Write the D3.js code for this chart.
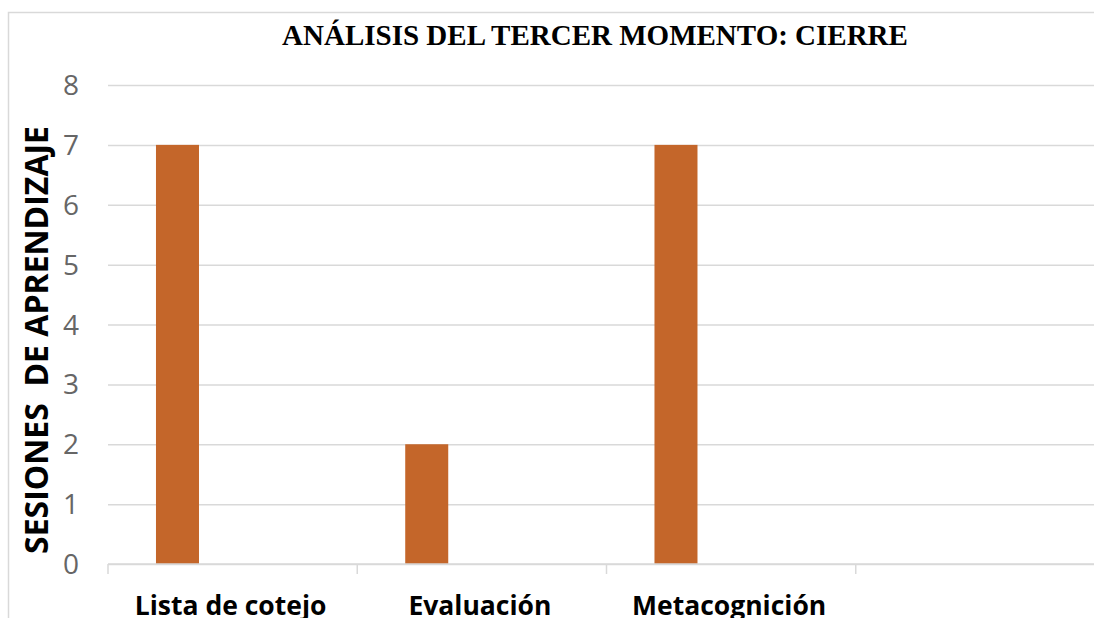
<!DOCTYPE html>
<html>
<head>
<meta charset="utf-8">
<script src="https://cdn.jsdelivr.net/npm/d3@7"></script>
<style>
  body { margin: 0; background: #fff; }
  svg { display: block; overflow: hidden; }
</style>
</head>
<body>
<svg id="chart" width="1094" height="618"></svg>
<script>
// chart data
var categories = ["Lista de cotejo", "Evaluación", "Metacognición", ""];
var seriesKeys = ["sesiones", "vacia"];
var sesiones = [7, 2, 7, 0];
var vacia = [0, 0, 0, 0];
var yTicks = [0, 1, 2, 3, 4, 5, 6, 7, 8];
var title = "ANÁLISIS DEL TERCER MOMENTO: CIERRE";
var yTitle = "SESIONES  DE APRENDIZAJE";

var svg = d3.select("#chart");
var plotLeft = 108, plotTop = 85, plotBottom = 564, plotRight = 1105;

// outer frame (cut off at right and bottom)
svg.append("rect")
    .attr("x", 8.5).attr("y", 12.5)
    .attr("width", 1200).attr("height", 700)
    .attr("fill", "none").attr("stroke", "#d9d9d9").attr("stroke-width", 1.5);

var x0 = d3.scaleBand().domain(categories).range([plotLeft, plotRight]);
var x1 = d3.scaleBand().domain(seriesKeys).range([0, x0.bandwidth()])
    .paddingInner(0.61).paddingOuter(0.435);
var y = d3.scaleLinear().domain([0, 8]).range([plotBottom, plotTop]);

var data = categories.map(function(c, i) { return {cat: c, sesiones: sesiones[i], vacia: vacia[i]}; });

// gridlines
var grid = svg.append("g").attr("transform", "translate(" + plotLeft + ",0)")
    .call(d3.axisLeft(y).tickValues(yTicks).tickSize(-(plotRight - plotLeft)).tickFormat(""));
grid.select(".domain").remove();
grid.selectAll("line").attr("stroke", "#d9d9d9").attr("stroke-width", 1.5);

// y tick labels
svg.append("g").selectAll("text")
  .data(yTicks)
  .enter().append("text")
    .attr("x", 79)
    .attr("y", function(d) { return y(d); })
    .attr("dy", "0.36em")
    .attr("text-anchor", "end")
    .attr("font-family", "Open Sans, sans-serif")
    .attr("font-size", 28)
    .attr("fill", "#666666")
    .text(function(d) { return d; });

// bars
svg.append("g")
  .selectAll("g")
  .data(data)
  .enter().append("g")
    .attr("transform", function(d) { return "translate(" + x0(d.cat) + ",0)"; })
  .selectAll("rect")
  .data(function(d) { return seriesKeys.map(function(k) { return {key: k, value: d[k]}; }); })
  .enter().append("rect")
    .attr("x", function(d) { return x1(d.key); })
    .attr("y", function(d) { return y(d.value); })
    .attr("width", x1.bandwidth())
    .attr("height", function(d) { return plotBottom - y(d.value); })
    .attr("fill", "#c4662a");

// x axis line and ticks at category boundaries
var xAxis = svg.append("g");
xAxis.append("line")
    .attr("x1", plotLeft).attr("x2", plotRight)
    .attr("y1", y(0)).attr("y2", y(0))
    .attr("stroke", "#d9d9d9").attr("stroke-width", 1.5);
xAxis.selectAll(".tick")
  .data(categories)
  .enter().append("line")
    .attr("x1", function(d) { return x0(d); })
    .attr("x2", function(d) { return x0(d); })
    .attr("y1", y(0)).attr("y2", y(0) + 10)
    .attr("stroke", "#d9d9d9").attr("stroke-width", 1.5);
xAxis.selectAll("text")
  .data(categories)
  .enter().append("text")
    .attr("x", function(d) { return x0(d) + x0.bandwidth() / 2 - 2; })
    .attr("y", 615)
    .attr("text-anchor", "middle")
    .attr("font-family", "Open Sans, sans-serif")
    .attr("font-weight", "bold")
    .attr("font-size", 26.5)
    .attr("fill", "#000")
    .text(function(d) { return d; });

// title
svg.append("text")
    .attr("x", 595).attr("y", 45)
    .attr("text-anchor", "middle")
    .attr("font-family", "Liberation Serif, Times New Roman, serif")
    .attr("font-weight", "bold")
    .attr("font-size", 29)
    .attr("fill", "#000")
    .text(title);

// y axis title
svg.append("text")
    .attr("transform", "translate(48,340) rotate(-90)")
    .attr("text-anchor", "middle")
    .attr("font-family", "Open Sans, sans-serif")
    .attr("font-weight", "bold")
    .attr("font-size", 32)
    .attr("fill", "#000")
    .style("white-space", "pre")
    .text(yTitle);
</script>
</body>
</html>
